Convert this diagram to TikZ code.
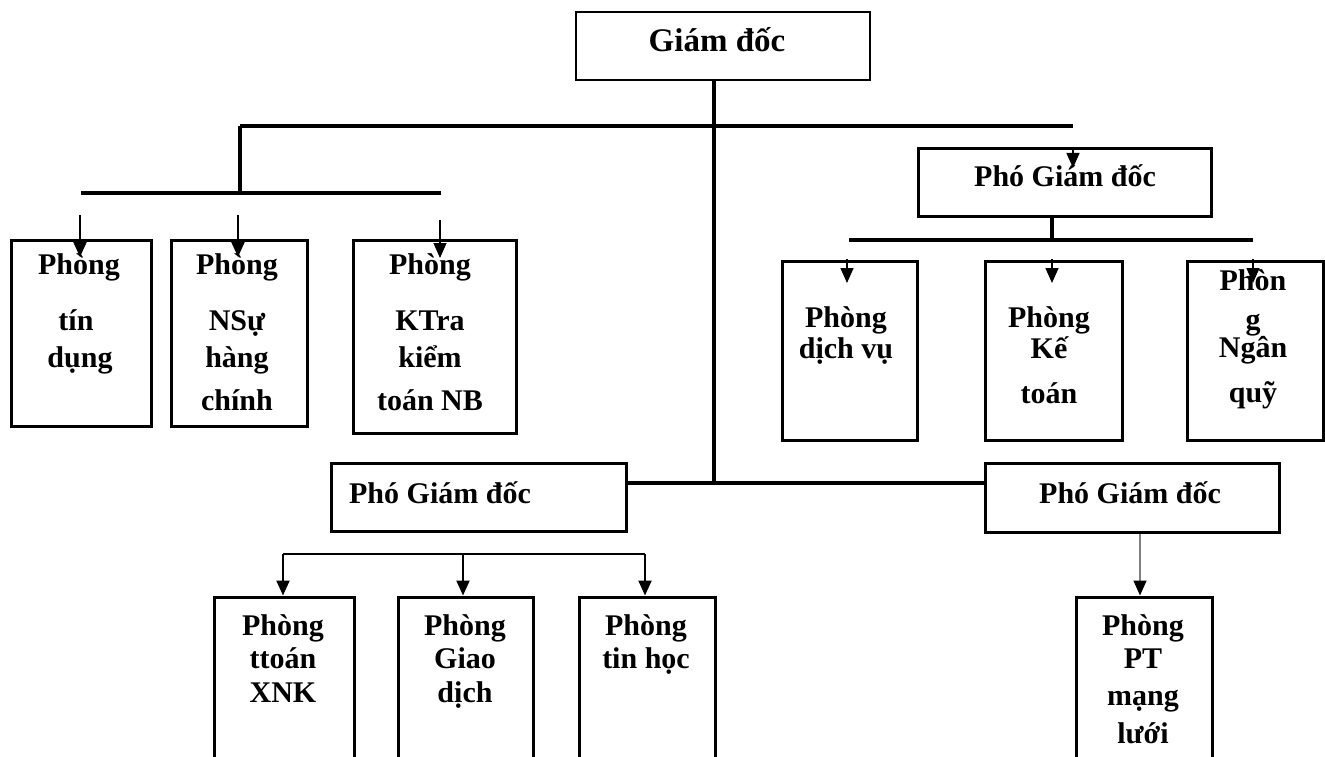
\documentclass[tikz,border=0pt]{standalone}
\usepackage{fontspec}
\setmainfont{Liberation Serif}
\usetikzlibrary{arrows.meta}
\begin{document}
\begin{tikzpicture}[x=1pt,y=-1pt,
  boxnode/.style={draw, line width=3pt, inner sep=0pt},
  txt/.style={font=\fontsize{30}{36}\selectfont\bfseries, inner sep=0pt, anchor=base},
  thick line/.style={line width=3.2pt},
  arr/.style={line width=#1, -{Triangle[length=15pt,width=13pt,color=black]}},
  arr/.default=1.6pt]
\useasboundingbox (0,0) rectangle (1325,757);
\clip (0,0) rectangle (1325,757);

% boxes
\node[boxnode, line width=2.5pt, minimum width=294pt, minimum height=68pt] (GD) at (723,46) {};
\node[boxnode, minimum width=293pt, minimum height=67pt] (PGD1) at (1064.5,182.5) {};
\node[boxnode, minimum width=295pt, minimum height=68pt] (PGD2) at (478.5,497) {};
\node[boxnode, minimum width=294pt, minimum height=69pt] (PGD3) at (1132,497.5) {};

\node[boxnode, minimum width=140pt, minimum height=186pt] (b1) at (81,333) {};
\node[boxnode, minimum width=136pt, minimum height=186pt] (b2) at (239,333) {};
\node[boxnode, minimum width=163pt, minimum height=193pt] (b3) at (434.5,336.5) {};

\node[boxnode, minimum width=135pt, minimum height=179pt] (r1) at (849.5,350.5) {};
\node[boxnode, minimum width=137pt, minimum height=179pt] (r2) at (1053.5,350.5) {};
\node[boxnode, minimum width=136pt, minimum height=179pt] (r3) at (1255,350.5) {};

\node[boxnode, minimum width=140pt, minimum height=206pt] (c1) at (284,700) {};
\node[boxnode, minimum width=135pt, minimum height=206pt] (c2) at (465.5,700) {};
\node[boxnode, minimum width=136pt, minimum height=206pt] (c3) at (647,700) {};
\node[boxnode, minimum width=136pt, minimum height=206pt] (c4) at (1144,700) {};

% texts
\node[txt, font=\fontsize{33}{36}\selectfont\bfseries] (tGD) at (717,52) {Giám đốc};
\node[txt] (tP1) at (1065,186) {Phó Giám đốc};
\node[txt] (tP2) at (440,503) {Phó Giám đốc};
\node[txt] (tP3) at (1130,503) {Phó Giám đốc};

\node[txt] (tb1a) at (79,274) {Phòng};
\node[txt] (tb1b) at (76,330) {tín};
\node[txt] (tb1c) at (80,367) {dụng};

\node[txt] (tb2a) at (237,274) {Phòng};
\node[txt] (tb2b) at (237,330) {NSự};
\node[txt] (tb2c) at (237,367) {hàng};
\node[txt] (tb2d) at (237,410) {chính};

\node[txt] (tb3a) at (430,274) {Phòng};
\node[txt] (tb3b) at (430,330) {KTra};
\node[txt] (tb3c) at (430,367) {kiểm};
\node[txt] (tb3d) at (430,410) {toán NB};

\node[txt] (tr1a) at (846,327) {Phòng};
\node[txt] (tr1b) at (846,358) {dịch vụ};

\node[txt] (tr2a) at (1049,327) {Phòng};
\node[txt] (tr2b) at (1049,358) {Kế};
\node[txt] (tr2c) at (1049,403) {toán};

\node[txt] (tr3a) at (1253,290) {Phòn};
\node[txt] (tr3b) at (1253,329) {g};
\node[txt] (tr3c) at (1253,357) {Ngân};
\node[txt] (tr3d) at (1253,402) {quỹ};

\node[txt] (tc1a) at (283,635) {Phòng};
\node[txt] (tc1b) at (283,668) {ttoán};
\node[txt] (tc1c) at (283,702) {XNK};

\node[txt] (tc2a) at (465,635) {Phòng};
\node[txt] (tc2b) at (465,668) {Giao};
\node[txt] (tc2c) at (465,702) {dịch};

\node[txt] (tc3a) at (646,635) {Phòng};
\node[txt] (tc3b) at (646,668) {tin học};

\node[txt] (tc4a) at (1143,635) {Phòng};
\node[txt] (tc4b) at (1143,668) {PT};
\node[txt] (tc4c) at (1143,705) {mạng};
\node[txt] (tc4d) at (1143,743) {lưới};

% junction coordinates
\coordinate (jmid) at (714,483);
\coordinate (tl) at (240,126);
\coordinate (tr) at (1073,126);
\coordinate (tlb) at (240,193);
\coordinate (ll) at (81,193);
\coordinate (lr) at (441,193);
\coordinate (rl) at (849,240);
\coordinate (rr) at (1253,240);
\coordinate (rj) at (1052,240);
\coordinate (bl) at (283,554);
\coordinate (bm) at (463,554);
\coordinate (br) at (645,554);

% main lines
\draw[thick line] (GD.south -| jmid) -- (jmid);
\draw[thick line] (PGD2.east |- jmid) -- (PGD3.west |- jmid);
\draw[thick line] (tl) -- (tr);
\draw[thick line] (tl) -- (tlb);
\draw[thick line] (ll) -- (lr);
\draw[thick line] (PGD1.south -| rj) -- (rj);
\draw[thick line] (rl) -- (rr);
\draw[line width=2.8pt] (bl) -- (br);

% arrows to top-left boxes
\coordinate (a1s) at (80,215);  \coordinate (a1e) at (80,257);
\coordinate (a2s) at (238,215); \coordinate (a2e) at (238,257);
\coordinate (a3s) at (440,220); \coordinate (a3e) at (440,258);
\draw[arr=2pt] (a1s) -- (a1e);
\draw[arr=2pt] (a2s) -- (a2e);
\draw[arr=1.2pt] (a3s) -- (a3e);

% arrow to right Pho Giam doc
\coordinate (p1s) at (1073,147); \coordinate (p1e) at (1073,168);
\draw[arr=1.4pt] (p1s) -- (p1e);

% arrows into right boxes
\coordinate (r1s) at (847,259);  \coordinate (r1e) at (847,283);
\coordinate (r2s) at (1052,259); \coordinate (r2e) at (1052,283);
\coordinate (r3s) at (1253,259); \coordinate (r3e) at (1253,283);
\draw[arr=1.4pt] (r1s) -- (r1e);
\draw[arr=1.4pt] (r2s) -- (r2e);
\draw[arr=1.4pt] (r3s) -- (r3e);

% arrows into bottom-left boxes
\draw[arr=2.2pt] (bl) -- (c1.north -| bl);
\draw[arr=2.2pt] (bm) -- (c2.north -| bm);
\draw[arr=2.2pt] (br) -- (c3.north -| br);

% gray arrow
\coordinate (gx) at (1140,0);
\draw[arr=1.6pt, draw=gray] (PGD3.south -| gx) -- (c4.north -| gx);
\end{tikzpicture}
\end{document}
